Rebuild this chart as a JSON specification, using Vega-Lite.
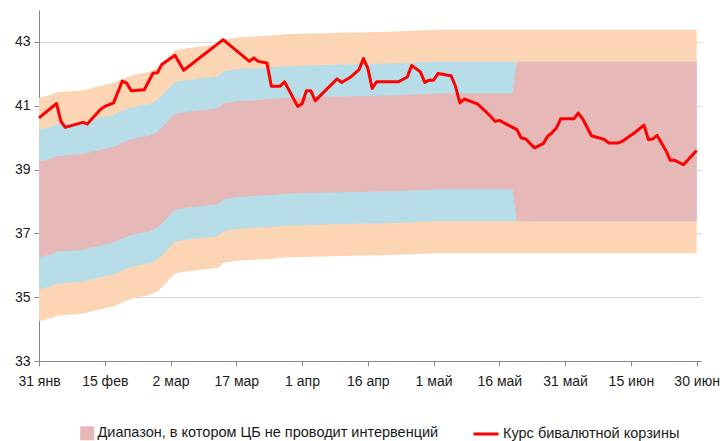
{
  "$schema": "https://vega.github.io/schema/vega-lite/v6.json",
  "autosize": "none",
  "width": 662,
  "height": 351,
  "padding": {"left": 39, "top": 10, "right": 22, "bottom": 80},
  "background": "white",
  "config": {
    "view": {"stroke": null},
    "font": "Liberation Sans Narrow, Liberation Sans, sans-serif",
    "locale": {
      "time": {
        "dateTime": "%A, %e %B %Y г. %X",
        "date": "%d.%m.%Y",
        "time": "%H:%M:%S",
        "periods": ["AM", "PM"],
        "days": ["воскресенье", "понедельник", "вторник", "среда", "четверг", "пятница", "суббота"],
        "shortDays": ["вс", "пн", "вт", "ср", "чт", "пт", "сб"],
        "months": ["января", "февраля", "марта", "апреля", "мая", "июня", "июля", "августа", "сентября", "октября", "ноября", "декабря"],
        "shortMonths": ["янв", "фев", "мар", "апр", "май", "июн", "июл", "авг", "сен", "окт", "ноя", "дек"]
      }
    }
  },
  "datasets": {
    "bands": [
      {"date": "2014-01-31", "o_lo": 34.25, "o_hi": 41.25, "b_lo": 35.25, "b_hi": 40.25, "p_lo": 36.25, "p_hi": 39.25},
      {"date": "2014-02-03", "o_lo": 34.35, "o_hi": 41.35, "b_lo": 35.35, "b_hi": 40.35, "p_lo": 36.35, "p_hi": 39.35},
      {"date": "2014-02-04", "o_lo": 34.42, "o_hi": 41.42, "b_lo": 35.42, "b_hi": 40.42, "p_lo": 36.42, "p_hi": 39.42},
      {"date": "2014-02-10", "o_lo": 34.48, "o_hi": 41.48, "b_lo": 35.48, "b_hi": 40.48, "p_lo": 36.48, "p_hi": 39.48},
      {"date": "2014-02-13", "o_lo": 34.59, "o_hi": 41.59, "b_lo": 35.59, "b_hi": 40.59, "p_lo": 36.59, "p_hi": 39.59},
      {"date": "2014-02-17", "o_lo": 34.71, "o_hi": 41.71, "b_lo": 35.71, "b_hi": 40.71, "p_lo": 36.71, "p_hi": 39.71},
      {"date": "2014-02-19", "o_lo": 34.84, "o_hi": 41.84, "b_lo": 35.84, "b_hi": 40.84, "p_lo": 36.84, "p_hi": 39.84},
      {"date": "2014-02-21", "o_lo": 34.94, "o_hi": 41.94, "b_lo": 35.94, "b_hi": 40.94, "p_lo": 36.94, "p_hi": 39.94},
      {"date": "2014-02-23", "o_lo": 35.01, "o_hi": 42.01, "b_lo": 36.01, "b_hi": 41.01, "p_lo": 37.01, "p_hi": 40.01},
      {"date": "2014-02-25", "o_lo": 35.05, "o_hi": 42.05, "b_lo": 36.05, "b_hi": 41.05, "p_lo": 37.05, "p_hi": 40.05},
      {"date": "2014-02-27", "o_lo": 35.18, "o_hi": 42.18, "b_lo": 36.18, "b_hi": 41.18, "p_lo": 37.18, "p_hi": 40.18},
      {"date": "2014-03-01", "o_lo": 35.45, "o_hi": 42.45, "b_lo": 36.45, "b_hi": 41.45, "p_lo": 37.45, "p_hi": 40.45},
      {"date": "2014-03-03", "o_lo": 35.74, "o_hi": 42.74, "b_lo": 36.74, "b_hi": 41.74, "p_lo": 37.74, "p_hi": 40.74},
      {"date": "2014-03-06", "o_lo": 35.81, "o_hi": 42.81, "b_lo": 36.81, "b_hi": 41.81, "p_lo": 37.81, "p_hi": 40.81},
      {"date": "2014-03-13", "o_lo": 35.92, "o_hi": 42.92, "b_lo": 36.92, "b_hi": 41.92, "p_lo": 37.92, "p_hi": 40.92},
      {"date": "2014-03-14", "o_lo": 36.07, "o_hi": 43.07, "b_lo": 37.07, "b_hi": 42.07, "p_lo": 38.07, "p_hi": 41.07},
      {"date": "2014-03-17", "o_lo": 36.14, "o_hi": 43.14, "b_lo": 37.14, "b_hi": 42.14, "p_lo": 38.14, "p_hi": 41.14},
      {"date": "2014-03-25", "o_lo": 36.20, "o_hi": 43.20, "b_lo": 37.20, "b_hi": 42.20, "p_lo": 38.20, "p_hi": 41.20},
      {"date": "2014-03-28", "o_lo": 36.24, "o_hi": 43.24, "b_lo": 37.24, "b_hi": 42.24, "p_lo": 38.24, "p_hi": 41.24},
      {"date": "2014-04-10", "o_lo": 36.29, "o_hi": 43.29, "b_lo": 37.29, "b_hi": 42.29, "p_lo": 38.29, "p_hi": 41.29},
      {"date": "2014-04-21", "o_lo": 36.32, "o_hi": 43.32, "b_lo": 37.32, "b_hi": 42.32, "p_lo": 38.32, "p_hi": 41.32},
      {"date": "2014-05-02", "o_lo": 36.38, "o_hi": 43.38, "b_lo": 37.38, "b_hi": 42.38, "p_lo": 38.38, "p_hi": 41.38},
      {"date": "2014-05-19", "o_lo": 36.38, "o_hi": 43.38, "b_lo": 37.38, "b_hi": 42.38, "p_lo": 38.38, "p_hi": 41.38},
      {"date": "2014-05-20", "o_lo": 36.38, "o_hi": 43.38, "b_lo": 37.38, "b_hi": 42.38, "p_lo": 37.38, "p_hi": 42.38},
      {"date": "2014-06-30", "o_lo": 36.38, "o_hi": 43.38, "b_lo": 37.38, "b_hi": 42.38, "p_lo": 37.38, "p_hi": 42.38}
    ],
    "basket": [
      {"date": "2014-01-31", "value": 40.62},
      {"date": "2014-02-04", "value": 41.07},
      {"date": "2014-02-05", "value": 40.51},
      {"date": "2014-02-06", "value": 40.32},
      {"date": "2014-02-10", "value": 40.48},
      {"date": "2014-02-11", "value": 40.43},
      {"date": "2014-02-14", "value": 40.88},
      {"date": "2014-02-15", "value": 40.98},
      {"date": "2014-02-17", "value": 41.09},
      {"date": "2014-02-19", "value": 41.77},
      {"date": "2014-02-20", "value": 41.71},
      {"date": "2014-02-21", "value": 41.47},
      {"date": "2014-02-24", "value": 41.50},
      {"date": "2014-02-26", "value": 42.02},
      {"date": "2014-02-27", "value": 42.03},
      {"date": "2014-02-28", "value": 42.29},
      {"date": "2014-03-03", "value": 42.58},
      {"date": "2014-03-05", "value": 42.11},
      {"date": "2014-03-14", "value": 43.07},
      {"date": "2014-03-20", "value": 42.39},
      {"date": "2014-03-21", "value": 42.50},
      {"date": "2014-03-22", "value": 42.39},
      {"date": "2014-03-24", "value": 42.34},
      {"date": "2014-03-25", "value": 41.61},
      {"date": "2014-03-27", "value": 41.61},
      {"date": "2014-03-28", "value": 41.75},
      {"date": "2014-03-31", "value": 40.98},
      {"date": "2014-04-01", "value": 41.06},
      {"date": "2014-04-02", "value": 41.47},
      {"date": "2014-04-03", "value": 41.47},
      {"date": "2014-04-04", "value": 41.16},
      {"date": "2014-04-09", "value": 41.84},
      {"date": "2014-04-10", "value": 41.73},
      {"date": "2014-04-12", "value": 41.89},
      {"date": "2014-04-14", "value": 42.13},
      {"date": "2014-04-15", "value": 42.48},
      {"date": "2014-04-16", "value": 42.18},
      {"date": "2014-04-17", "value": 41.54},
      {"date": "2014-04-18", "value": 41.75},
      {"date": "2014-04-23", "value": 41.75},
      {"date": "2014-04-25", "value": 41.90},
      {"date": "2014-04-26", "value": 42.26},
      {"date": "2014-04-28", "value": 42.06},
      {"date": "2014-04-29", "value": 41.73},
      {"date": "2014-04-30", "value": 41.80},
      {"date": "2014-05-01", "value": 41.80},
      {"date": "2014-05-02", "value": 42.01},
      {"date": "2014-05-05", "value": 41.94},
      {"date": "2014-05-06", "value": 41.61},
      {"date": "2014-05-07", "value": 41.09},
      {"date": "2014-05-08", "value": 41.21},
      {"date": "2014-05-11", "value": 41.06},
      {"date": "2014-05-12", "value": 40.93},
      {"date": "2014-05-14", "value": 40.67},
      {"date": "2014-05-15", "value": 40.51},
      {"date": "2014-05-16", "value": 40.54},
      {"date": "2014-05-20", "value": 40.25},
      {"date": "2014-05-21", "value": 39.99},
      {"date": "2014-05-22", "value": 39.96},
      {"date": "2014-05-24", "value": 39.68},
      {"date": "2014-05-26", "value": 39.81},
      {"date": "2014-05-27", "value": 40.04},
      {"date": "2014-05-28", "value": 40.15},
      {"date": "2014-05-29", "value": 40.30},
      {"date": "2014-05-30", "value": 40.59},
      {"date": "2014-06-02", "value": 40.59},
      {"date": "2014-06-03", "value": 40.77},
      {"date": "2014-06-04", "value": 40.59},
      {"date": "2014-06-06", "value": 40.06},
      {"date": "2014-06-09", "value": 39.94},
      {"date": "2014-06-10", "value": 39.83},
      {"date": "2014-06-12", "value": 39.83},
      {"date": "2014-06-13", "value": 39.88},
      {"date": "2014-06-16", "value": 40.17},
      {"date": "2014-06-18", "value": 40.39},
      {"date": "2014-06-19", "value": 39.94},
      {"date": "2014-06-20", "value": 39.96},
      {"date": "2014-06-21", "value": 40.07},
      {"date": "2014-06-23", "value": 39.59},
      {"date": "2014-06-24", "value": 39.29},
      {"date": "2014-06-25", "value": 39.29},
      {"date": "2014-06-27", "value": 39.15},
      {"date": "2014-06-30", "value": 39.60}
    ]
  },
  "encoding": {
    "x": {
      "field": "date",
      "type": "temporal",
      "scale": {
        "type": "utc",
        "domain": [
          {"year": 2014, "month": 1, "date": 31, "utc": true},
          {"year": 2014, "month": 7, "date": 1, "utc": true}
        ]
      },
      "axis": {
        "title": null,
        "grid": false,
        "format": "%-d %b",
        "values": [
          {"year": 2014, "month": 1, "date": 31, "utc": true},
          {"year": 2014, "month": 2, "date": 15, "utc": true},
          {"year": 2014, "month": 3, "date": 2, "utc": true},
          {"year": 2014, "month": 3, "date": 17, "utc": true},
          {"year": 2014, "month": 4, "date": 1, "utc": true},
          {"year": 2014, "month": 4, "date": 16, "utc": true},
          {"year": 2014, "month": 5, "date": 1, "utc": true},
          {"year": 2014, "month": 5, "date": 16, "utc": true},
          {"year": 2014, "month": 5, "date": 31, "utc": true},
          {"year": 2014, "month": 6, "date": 15, "utc": true},
          {"year": 2014, "month": 6, "date": 30, "utc": true}
        ],
        "labelFontSize": 14,
        "labelColor": "#1a1a1a",
        "labelPadding": 8,
        "labelOverlap": false,
        "labelFlush": false,
        "tickSize": 5,
        "tickColor": "#868686",
        "domainColor": "#868686"
      }
    }
  },
  "layer": [
    {
      "data": {"name": "bands"},
      "mark": {"type": "area", "color": "#FCD5B5", "opacity": 1},
      "encoding": {
        "y": {
          "field": "o_lo",
          "type": "quantitative",
          "scale": {"domain": [33, 44], "nice": false, "zero": false},
          "axis": {
            "title": null,
            "values": [33, 35, 37, 39, 41, 43],
            "grid": true,
            "gridColor": "#D9D9D9",
            "labelFontSize": 14,
            "labelColor": "#1a1a1a",
            "labelPadding": 4,
            "tickSize": 5,
            "tickColor": "#868686",
            "domainColor": "#868686"
          }
        },
        "y2": {"field": "o_hi"}
      }
    },
    {
      "data": {"name": "bands"},
      "mark": {"type": "area", "color": "#B7DEE8", "opacity": 1},
      "encoding": {
        "y": {"field": "b_lo", "type": "quantitative"},
        "y2": {"field": "b_hi"}
      }
    },
    {
      "data": {"name": "bands"},
      "mark": {"type": "area", "opacity": 1},
      "encoding": {
        "y": {"field": "p_lo", "type": "quantitative"},
        "y2": {"field": "p_hi"},
        "fill": {
          "datum": "Диапазон, в котором ЦБ не проводит интервенций",
          "scale": {"range": ["#E6B8B7"]},
          "legend": {
            "title": null,
            "orient": "none",
            "legendX": 41,
            "legendY": 416,
            "padding": 0,
            "symbolType": "square",
            "symbolSize": 196,
            "symbolStrokeWidth": 0,
            "labelFontSize": 14.5,
            "labelColor": "#1a1a1a",
            "labelOffset": 3,
            "labelLimit": 500
          }
        }
      }
    },
    {
      "data": {"name": "basket"},
      "mark": {"type": "line", "strokeWidth": 3, "strokeJoin": "round"},
      "encoding": {
        "y": {"field": "value", "type": "quantitative"},
        "stroke": {
          "datum": "Курс бивалютной корзины",
          "scale": {"range": ["#FF0000"]},
          "legend": {
            "title": null,
            "orient": "none",
            "legendX": 433,
            "legendY": 410,
            "padding": 0,
            "symbolType": "stroke",
            "symbolSize": 625,
            "symbolStrokeWidth": 3,
            "labelFontSize": 14.5,
            "labelColor": "#1a1a1a",
            "labelOffset": 3,
            "labelLimit": 500
          }
        }
      }
    }
  ]
}
